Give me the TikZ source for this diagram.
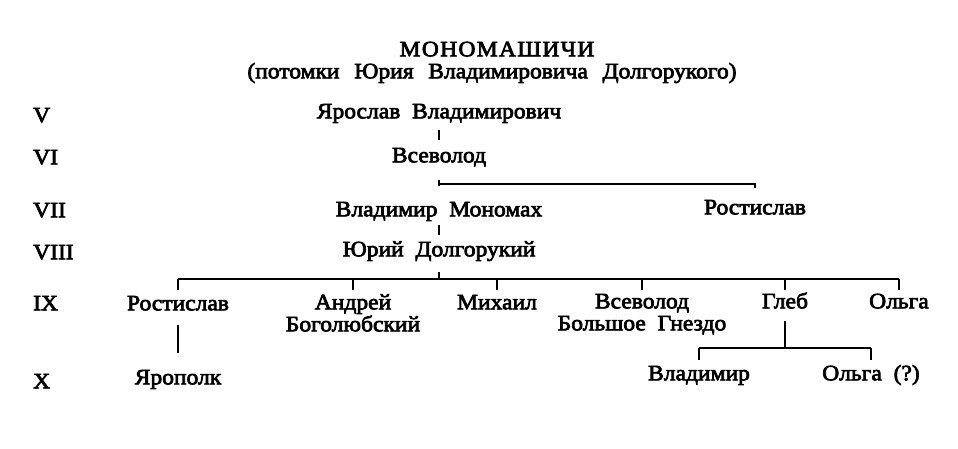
\documentclass[tikz,border=0pt]{standalone}
\usepackage{fontspec}
\setmainfont{Liberation Serif}[FakeStretch=1.07, FakeBold=3.2, WordSpace=2]
\newfontfamily\titlefont{Liberation Serif}[FakeStretch=1.07, FakeBold=3.2, LetterSpace=6]
\newfontfamily\subfont{Liberation Serif}[FakeStretch=1.07, FakeBold=3.2, WordSpace=2.5]
\usetikzlibrary{calc}
\begin{document}
\begin{tikzpicture}[x=1pt,y=-1pt,
  lbl/.style={font=\fontsize{22}{22}\selectfont, inner sep=0pt, anchor=mid, align=center},
  gen/.style={font=\fontsize{22}{22}\selectfont, inner sep=0pt, anchor=mid west},
  conn/.style={line width=2.2pt}]
\useasboundingbox (0,0) rectangle (958,448);
\fill[white] (0,0) rectangle (958,448);
\node[lbl, font=\titlefont\fontsize{22}{22}\selectfont] (title) at (497,54) {МОНОМАШИЧИ};
\node[lbl, font=\subfont\fontsize{22}{22}\selectfont] (sub) at (492,76) {(потомки Юрия Владимировича Долгорукого)};
\node[gen] (g5) at (33,120) {V};
\node[gen] (g6) at (33,162) {VI};
\node[gen] (g7) at (33,215) {VII};
\node[gen] (g8) at (33,257) {VIII};
\node[gen] (g9) at (33,308) {IX};
\node[gen] (g10) at (33,386) {X};
\node[lbl] (yar) at (439,116) {Ярослав Владимирович};
\node[lbl] (vsev) at (439,160) {Всеволод};
\node[lbl] (vlad) at (439,214) {Владимир Мономах};
\node[lbl] (rostA) at (755,212) {Ростислав};
\node[lbl] (yuri) at (439,254) {Юрий Долгорукий};
\node[lbl] (rostB) at (178,308) {Ростислав};
\node[lbl] (andr) at (353,329) {Андрей\\Боголюбский};
\node[lbl] (mikh) at (497,307) {Михаил};
\node[lbl] (vsevB) at (642,328) {Всеволод\\Большое Гнездо};
\node[lbl] (gleb) at (785,306) {Глеб};
\node[lbl] (olga) at (899,306) {Ольга};
\node[lbl] (yarop) at (178,382) {Ярополк};
\node[lbl] (vladB) at (699,378) {Владимир};
\node[lbl] (olgaB) at (871,378) {Ольга (?)};
\coordinate (bus7) at (439,184);
\coordinate (bus9) at (439,279);
\coordinate (bus9b) at (0,290);
\coordinate (bus10) at (785,348);
\coordinate (bus10b) at (0,360);
% connectors
\draw[conn, shorten <=17pt, shorten >=18pt] (yar) -- (vsev);
\draw[conn, shorten <=13pt, shorten >=16pt] (vsev) -- (vlad);
\draw[conn] (bus7) -| ($(rostA)+(0,-19)$);
\draw[conn, shorten <=14pt, shorten >=16pt] (vlad) -- (yuri);
\draw[conn, shorten <=11pt] (yuri) -- (bus9);
\draw[conn] (rostB |- bus9) -- (olga |- bus9);
\foreach \n in {rostB,andr,mikh,vsevB,gleb,olga}
  \draw[conn] (\n |- bus9) -- (\n |- bus9b);
\draw[conn, shorten <=14pt, shorten >=17pt] (rostB) -- (yarop);
\draw[conn, shorten <=12pt] (gleb) -- (bus10);
\draw[conn] (vladB |- bus10) -- (olgaB |- bus10);
\foreach \n in {vladB,olgaB}
  \draw[conn] (\n |- bus10) -- (\n |- bus10b);
\end{tikzpicture}
\end{document}
